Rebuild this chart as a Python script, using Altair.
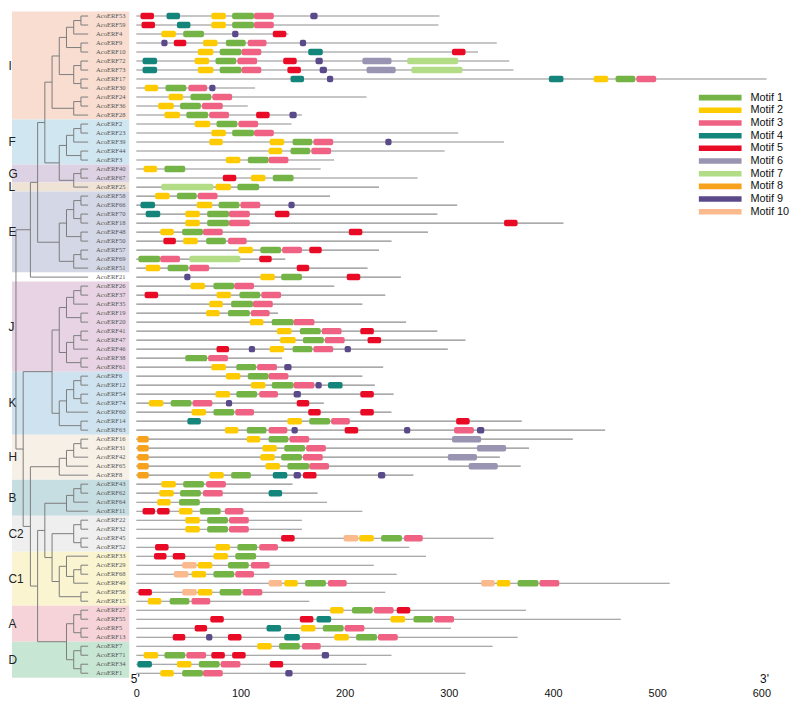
import altair as alt
import pandas as pd

# ---------------- data ----------------
genes = ["AcoERF53", "AcoERF59", "AcoERF4", "AcoERF9", "AcoERF10", "AcoERF72", "AcoERF73", "AcoERF17",
         "AcoERF30", "AcoERF24", "AcoERF36", "AcoERF28", "AcoERF2", "AcoERF23", "AcoERF39", "AcoERF44",
         "AcoERF3", "AcoERF40", "AcoERF67", "AcoERF25", "AcoERF58", "AcoERF66", "AcoERF70", "AcoERF18",
         "AcoERF48", "AcoERF50", "AcoERF57", "AcoERF69", "AcoERF51", "AcoERF21", "AcoERF26", "AcoERF37",
         "AcoERF35", "AcoERF19", "AcoERF20", "AcoERF41", "AcoERF47", "AcoERF46", "AcoERF38", "AcoERF61",
         "AcoERF6", "AcoERF12", "AcoERF54", "AcoERF74", "AcoERF60", "AcoERF14", "AcoERF63", "AcoERF16",
         "AcoERF31", "AcoERF42", "AcoERF65", "AcoERF8", "AcoERF43", "AcoERF62", "AcoERF64", "AcoERF11",
         "AcoERF22", "AcoERF32", "AcoERF45", "AcoERF52", "AcoERF33", "AcoERF29", "AcoERF68", "AcoERF49",
         "AcoERF56", "AcoERF15", "AcoERF27", "AcoERF55", "AcoERF5", "AcoERF13", "AcoERF7", "AcoERF71",
         "AcoERF34", "AcoERF1"]

lengths = [291, 290, 146, 346, 328, 358, 362, 605,
           114, 221, 107, 159, 149, 309, 353, 296,
           190, 177, 270, 233, 186, 308, 289, 410,
           280, 245, 233, 143, 222, 254, 190, 239,
           217, 136, 259, 289, 316, 299, 140, 237,
           217, 229, 247, 180, 245, 370, 450, 419,
           377, 349, 369, 266, 150, 174, 183, 217,
           159, 159, 343, 262, 278, 228, 250, 512,
           239, 166, 374, 465, 302, 366, 342, 245,
           221, 316]

# motif hits per gene: "motif:start-end"
hits = [
    "5:4-17 4:29-42 2:72-86 1:92-113 3:113-132 9:167-174",
    "5:5-18 4:39-52 2:72-86 1:92-113 3:113-132",
    "2:24-38 1:45-65 9:92-98 5:131-144",
    "9:24-30 5:36-48 2:64-78 1:86-105 3:107-125 9:157-163",
    "2:59-74 1:80-101 3:101-120 4:165-179 5:303-316",
    "4:6-20 2:56-70 1:76-96 3:97-116 5:141-154 9:172-179 6:217-245 7:260-309",
    "4:6-20 2:59-74 1:80-101 3:101-120 5:145-158 9:176-183 6:221-249 7:264-313",
    "4:148-161 9:183-189 4:396-410 2:439-453 1:460-479 3:480-499",
    "2:8-21 1:28-48 3:50-68 9:70-76",
    "2:31-45 1:52-72 3:73-92",
    "2:21-36 1:42-62 3:63-83",
    "2:27-42 1:48-69 3:70-89 5:115-128 9:147-154",
    "2:56-71 1:77-97 3:98-117",
    "2:72-86 1:92-113 3:113-132",
    "2:70-83 2:128-142 1:150-169 3:170-189 9:239-245",
    "2:127-140 1:148-167 3:168-187",
    "2:86-100 1:107-127 3:127-146",
    "2:7-20 1:27-47",
    "5:83-96 2:110-124 1:131-151",
    "7:24-74 2:76-91 1:97-118",
    "2:18-32 1:39-58 3:59-78",
    "4:4-18 2:58-73 1:79-99 3:100-119 9:146-152",
    "4:9-23 2:47-61 1:68-89 3:89-109 5:133-147",
    "2:47-61 1:68-89 3:89-109 5:353-366",
    "2:23-36 1:44-64 3:64-83 5:204-217",
    "5:26-38 2:45-59 1:67-86 3:88-106",
    "2:98-112 1:119-139 3:140-159 5:166-178",
    "1:2-23 3:23-42 7:51-100 5:118-130",
    "2:9-23 1:30-50 3:51-70 5:154-166",
    "9:46-52 2:119-133 1:139-159 5:202-215",
    "2:52-66 1:74-94 3:94-113",
    "5:8-21 2:77-91 1:99-119 3:120-139",
    "2:70-83 1:91-112 3:112-131",
    "2:67-80 1:88-109 3:110-128",
    "2:109-122 1:130-151 3:151-171",
    "2:135-149 1:157-177 3:178-197 5:215-228",
    "2:138-153 1:160-180 3:181-200 5:222-235",
    "5:77-89 9:108-114 2:128-142 1:150-169 3:170-189 9:200-206",
    "1:47-68 3:69-88",
    "2:72-86 1:96-115 3:116-135 9:142-149",
    "2:86-100 1:107-127 3:127-146",
    "2:110-124 1:130-151 3:151-171 9:172-178 4:184-198",
    "2:76-90 1:96-116 3:118-136 9:151-158 5:215-228",
    "2:12-26 1:33-53 3:54-73 9:86-92 5:154-166",
    "2:53-67 1:74-94 3:95-113 5:165-177 5:215-228",
    "4:49-62 2:145-159 1:166-186 3:187-205 5:307-320",
    "2:85-98 1:106-125 3:127-145 9:149-155 5:200-213 9:257-263 3:305-324 9:327-334",
    "8:1-12 2:106-119 1:127-146 3:147-166 6:303-331",
    "8:1-12 2:121-135 1:142-162 3:163-182 6:327-355",
    "8:1-12 2:119-133 1:139-159 3:160-179 6:299-327",
    "8:1-12 2:124-138 1:145-166 3:166-185 6:319-347",
    "8:1-12 2:70-84 1:91-110 4:131-145 9:151-158 5:160-173 9:232-239",
    "2:24-38 1:45-65 3:67-86",
    "2:22-36 1:42-62 3:64-83 4:127-140",
    "2:20-33 1:41-61",
    "5:6-18 5:20-32 2:41-54 1:61-81 3:85-103",
    "2:47-61 1:68-88 3:89-108",
    "2:47-61 1:68-88 3:89-108",
    "5:139-152 10:199-213 2:214-228 1:235-255 3:257-275",
    "5:18-31 2:76-90 1:97-116 3:118-136",
    "5:17-29 5:35-47 2:74-88 1:95-115",
    "10:44-58 2:59-73 1:88-108 3:110-128",
    "10:36-50 2:53-67 1:74-94 3:95-113",
    "10:127-140 2:142-155 1:162-182 3:184-202 10:331-344 2:346-359 1:366-386 3:387-406",
    "5:2-15 10:44-58 2:59-73 1:80-101 3:102-121",
    "2:11-24 1:32-51 3:53-71",
    "2:186-199 1:207-227 3:228-247 5:250-263",
    "5:71-84 5:157-170 4:173-187 2:244-258 1:266-285 3:286-305",
    "5:56-68 4:125-139 2:158-172 1:179-199 3:200-219",
    "5:35-47 9:67-73 5:88-101 4:142-157 2:190-204 1:211-231 3:232-251",
    "2:116-130 1:137-157 3:159-177",
    "2:7-21 1:27-47 3:48-67 5:72-85 5:92-105 9:178-185",
    "4:1-15 2:39-53 1:60-80 3:81-100 5:128-141",
    "2:23-36 1:44-64 3:64-83 9:143-150",
]

motif_names = [f"Motif {i}" for i in range(1, 11)]
motif_colors = ["#74b446", "#fecb00", "#f06283", "#14857a", "#e90a26",
                "#9894b2", "#b3dc86", "#f8a11c", "#5b4a8a", "#fbb98e"]

groups = ["I", "F", "G", "L", "E", "", "J", "K", "H", "B", "C2", "C1", "A", "D"]
group_sizes = [12, 5, 2, 1, 9, 1, 10, 7, 5, 4, 4, 6, 4, 4]
group_colors = ["#f8ddd0", "#d0e6f1", "#ddd2e3", "#efe3d6", "#d4d7e6", "#ffffff", "#e7d3e4",
                "#cee3ef", "#f7f0e6", "#c6dde2", "#efefef", "#faf4d1", "#f5d3d8", "#c8e6d4"]

# tree topology (Newick, gene numbers)
clade_I = "(((((53,59),4),(9,10)),((72,73),(17,30))),((24,36),28))"
clade_F = "(((2,23),39),(44,3))"
clade_GL = "((40,67),25)"
clade_E = "((((58,66),(70,18)),(48,50)),((57,69),51))"
clade_J = "((((26,37),35),(19,20)),(((41,47),46),(38,61)))"
clade_K = "((((6,12),(54,74)),60),(14,63))"
clade_H = "((((16,31),42),65),8)"
clade_B = "(((43,62),64),11)"
clade_C2 = "((22,32),(45,52))"
clade_C1 = "((33,((29,68),49)),(56,15))"
clade_A = "((27,55),(5,13))"
clade_D = "((7,71),(34,1))"

top_part = "(((" + clade_I + ",(" + clade_F + "," + clade_GL + "))," + clade_E + "),21)"
bottom_part = ("((" + clade_J + "," + clade_K + "),(" + clade_H + ",((" + clade_B + ",(" +
               clade_C2 + "," + clade_C1 + ")),(" + clade_A + "," + clade_D + "))))")
newick = "(" + top_part + "," + bottom_part + ")"

# ---------------- layout constants ----------------
W, H = 782, 673
XMIN, XMAX = -123.14, 619.86
LEAF_X, ROOT_X = -46.2, -115.5
LABEL_X = -38.6
BAND_X0, BAND_X1 = -119.3, -6.75
GROUP_X = -122.7
N = len(genes)
row = {g: i for i, g in enumerate(genes)}

# ---------------- build tables ----------------
genes_df = pd.DataFrame({"gene": genes, "row": list(range(N)), "start": 0.0,
                         "length": [float(v) for v in lengths], "lx": LABEL_X})

hit_rows = []
for g, s in zip(genes, hits):
    for tok in s.split():
        m, rng = tok.split(":")
        a, b = rng.split("-")
        r = row[g]
        hit_rows.append({"gene": g, "motif": f"Motif {m}", "start": float(a), "end": float(b),
                         "y0": r - 0.36, "y1": r + 0.36})
hits_df = pd.DataFrame(hit_rows)

band_rows = []
r0 = 0
for name, size, col in zip(groups, group_sizes, group_colors):
    band_rows.append({"group": name, "y0": r0 - 0.5, "y1": r0 + size - 0.5,
                      "ymid": r0 + (size - 1) / 2, "fillc": col, "x0": BAND_X0, "x1": BAND_X1,
                      "gx": GROUP_X})
    r0 += size
bands_df = pd.DataFrame(band_rows)


def parse(s):
    pos = 0

    def node():
        nonlocal pos
        if s[pos] == "(":
            pos += 1
            kids = [node()]
            while s[pos] == ",":
                pos += 1
                kids.append(node())
            pos += 1
            return kids
        st = pos
        while s[pos] not in ",()":
            pos += 1
        return "AcoERF" + s[st:pos]

    return node()


tree = parse(newick)


def height(n):
    return 0 if isinstance(n, str) else 1 + max(height(c) for c in n)


STEP = (LEAF_X - ROOT_X) / height(tree)
segs = []


def lay(n):
    if isinstance(n, str):
        return LEAF_X, row[n]
    x = LEAF_X - height(n) * STEP
    ys = []
    for c in n:
        cx, cy = lay(c)
        segs.append({"x": x, "x2": cx, "y": cy, "y2": cy})
        ys.append(cy)
    segs.append({"x": x, "x2": x, "y": ys[0], "y2": ys[-1]})
    return x, (ys[0] + ys[-1]) / 2


lay(tree)
tree_df = pd.DataFrame(segs)

ends_df = pd.DataFrame({"t": ["5'", "3'"], "x": [-1.0, 603.0], "y": [73.6, 73.6]})

# ---------------- chart ----------------
xs = alt.Scale(domain=[XMIN, XMAX], nice=False, zero=False)
ys = alt.Scale(domain=[-0.5, N - 0.5], reverse=True, nice=False, zero=False)
xaxis = alt.Axis(values=[0, 100, 200, 300, 400, 500, 600], domain=False, ticks=False, grid=False,
                 labelFont="Liberation Sans", labelFontSize=11, labelColor="#111",
                 labelPadding=10, title=None)

bands = alt.Chart(bands_df).mark_rect().encode(
    x=alt.X("x0:Q", scale=xs, axis=xaxis), x2="x1:Q",
    y=alt.Y("y0:Q", scale=ys, axis=None), y2="y1:Q",
    fill=alt.Fill("fillc:N", scale=None))

group_text = alt.Chart(bands_df).mark_text(
    align="left", baseline="middle", font="Liberation Sans", fontSize=12, color="#222").encode(
    x=alt.X("gx:Q", scale=xs, axis=xaxis), y=alt.Y("ymid:Q", scale=ys, axis=None), text="group:N")

tree_lines = alt.Chart(tree_df).mark_rule(color="#7c7c7c", strokeWidth=1).encode(
    x=alt.X("x:Q", scale=xs, axis=xaxis), x2="x2:Q",
    y=alt.Y("y:Q", scale=ys, axis=None), y2="y2:Q")

gene_text = alt.Chart(genes_df).mark_text(
    align="left", baseline="middle", font="Liberation Serif", fontSize=6.6, color="#555").encode(
    x=alt.X("lx:Q", scale=xs, axis=xaxis), y=alt.Y("row:Q", scale=ys, axis=None), text="gene:N")

prot_lines = alt.Chart(genes_df).mark_rule(color="#8e8e8e", strokeWidth=1.1).encode(
    x=alt.X("start:Q", scale=xs, axis=xaxis), x2="length:Q",
    y=alt.Y("row:Q", scale=ys, axis=None))

legend = alt.Legend(orient="none", legendX=714, legendY=81.5, title=None, direction="vertical",
                    symbolType="M-9.2,-1.2H9.2V1.2H-9.2Z", symbolSize=22, symbolStrokeWidth=0,
                    symbolOpacity=1, labelOffset=25, labelFont="Liberation Sans", labelFontSize=11,
                    labelColor="#111", rowPadding=0.8, padding=0)

motifs = alt.Chart(hits_df).mark_rect(cornerRadius=2).encode(
    x=alt.X("start:Q", scale=xs, axis=xaxis), x2="end:Q",
    y=alt.Y("y0:Q", scale=ys, axis=None), y2="y1:Q",
    color=alt.Color("motif:N", scale=alt.Scale(domain=motif_names, range=motif_colors),
                    legend=legend))

ends = alt.Chart(ends_df).mark_text(
    align="center", baseline="middle", font="Liberation Sans", fontSize=12, color="#111").encode(
    x=alt.X("x:Q", scale=xs, axis=xaxis), y=alt.Y("y:Q", scale=ys, axis=None), text="t:N")

chart = alt.layer(bands, tree_lines, gene_text, group_text, prot_lines, motifs, ends).properties(
    width=W, height=H,
    autosize=alt.AutoSizeParams(type="none"),
    padding={"left": 0, "top": 0, "right": 8, "bottom": 25},
).configure_view(stroke=None)

chart.save("out.html", embed_options={"renderer": "svg", "actions": False})
